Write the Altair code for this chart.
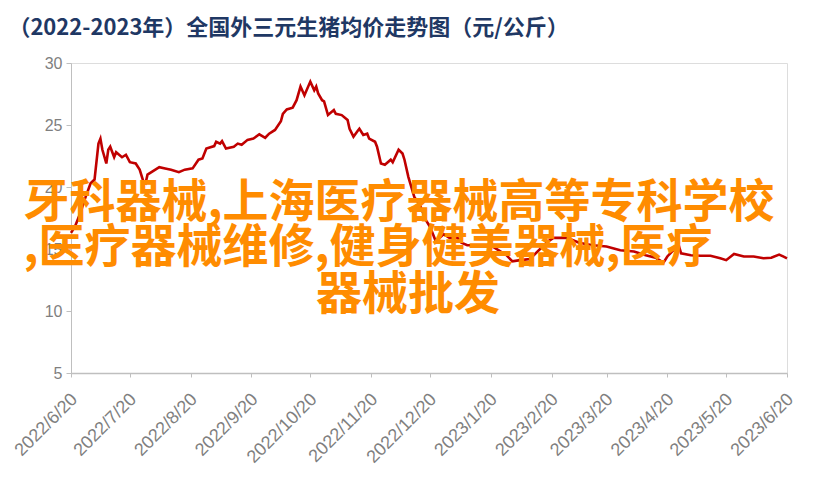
import altair as alt
import pandas as pd

# day offsets from 2022-06-20 and price (元/公斤)
day_offsets = [0, 2, 5, 7, 10, 12, 14, 15, 16, 18, 19, 20, 22, 23, 26, 28, 30, 33, 35, 37, 38, 39, 41, 45, 48, 51, 55, 58, 62,
               65, 67, 69, 73, 74, 76, 77, 79, 83, 85, 87, 90, 93, 96, 99, 101, 104, 107, 108, 110, 113, 115, 117, 119, 122,
               124, 125, 126, 128, 129, 131, 134, 135, 138, 141, 142, 144, 146, 147, 149, 151, 152, 155, 156, 158, 160, 163,
               164, 167, 169, 170, 172, 175, 178, 181, 183, 186, 190, 193, 197, 199, 202, 208, 214, 222, 225, 229, 234, 243,
               246, 253, 259, 266, 273, 280, 287, 293, 298, 302, 304, 307, 310, 311, 316, 321, 326, 331, 334, 338, 343, 348,
               353, 357, 361, 363, 365]
prices = [16.3, 16.8, 18.0, 19.0, 20.3, 20.6, 23.5, 23.9, 23.0, 21.9, 23.0, 23.25, 22.4, 22.8, 22.4, 22.6, 22.0, 21.9, 21.4, 20.4,
          20.3, 21.0, 21.2, 21.6, 21.5, 21.4, 21.2, 21.4, 21.5,
          22.2, 22.3, 23.1, 23.3, 23.65, 23.5, 23.7, 23.1, 23.25, 23.5, 23.4, 23.8, 23.9, 24.25, 23.97, 24.3, 24.6, 25.3, 25.9,
          26.25, 26.4, 27.0, 28.1, 27.4, 28.5,
          27.8, 28.1, 27.55, 27.0, 26.9, 25.8, 26.2, 25.9, 25.8, 25.4, 24.7, 24.06, 24.5, 24.7, 24.2, 24.3, 23.9, 23.65, 23.25,
          21.9, 21.8, 22.2,
          22.0, 23.0, 22.7, 22.2, 20.8, 19.2, 18.5, 17.3, 16.8, 15.6, 16.2, 15.9, 15.9, 15.5, 15.3, 15.3, 15.3, 14.5, 14.0, 14.1,
          14.2, 15.6,
          15.9, 15.9, 15.5, 15.3, 15.2, 14.9, 14.8, 14.5, 14.3, 13.9, 14.4, 14.9, 15.2, 14.65, 14.5, 14.45, 14.45, 14.25, 14.1,
          14.6, 14.4, 14.4,
          14.25, 14.3, 14.55, 14.4, 14.25]

tick_months = [(2022, 6), (2022, 7), (2022, 8), (2022, 9), (2022, 10), (2022, 11), (2022, 12),
               (2023, 1), (2023, 2), (2023, 3), (2023, 4), (2023, 5), (2023, 6)]

title_text = "（2022-2023年）全国外三元生猪均价走势图（元/公斤）"
overlay_lines = ["牙科器械,上海医疗器械高等专科学校", ",医疗器械维修,健身健美器械,医疗", "器械批发"]

start = pd.Timestamp("2022-06-20")
df = pd.DataFrame({
    "date": [(start + pd.Timedelta(days=d)).strftime("%Y-%m-%d") for d in day_offsets],
    "price": prices,
})

tick_vals = [alt.DateTime(year=y, month=m, date=20, utc=True) for y, m in tick_months]

x = alt.X("date:T",
          scale=alt.Scale(type="utc", domain=[alt.DateTime(year=2022, month=6, date=20, utc=True),
                                              alt.DateTime(year=2023, month=6, date=20, utc=True)], nice=False),
          axis=alt.Axis(values=tick_vals, labelExpr="utcFormat(datum.value, '%Y/%-m/%-d')",
                        labelAngle=-45, labelAlign="right", labelBaseline="top", labelPadding=13,
                        labelOffset=-3,
                        labelOverlap=False, labelBound=False, labelFlush=False,
                        labelFont="Liberation Sans", labelFontSize=18, labelColor="#7F7F7F",
                        domainColor="#BFBFBF", domainWidth=1.5, tickColor="#BFBFBF", tickSize=4,
                        grid=False, title=None))
y = alt.Y("price:Q",
          scale=alt.Scale(domain=[5, 30], nice=False, zero=False),
          axis=alt.Axis(values=[5, 10, 15, 20, 25, 30], labelFont="Liberation Sans", labelFontSize=16,
                        labelColor="#7F7F7F", labelPadding=4,
                        domainColor="#BFBFBF", domainWidth=1, tickColor="#BFBFBF", tickSize=5,
                        grid=False, title=None))

line = alt.Chart(df).mark_line(color="#C00000", strokeWidth=2.6).encode(x=x, y=y)

ov = pd.DataFrame({"t": overlay_lines, "px": [328, 297, 337], "py": [140, 185, 232]})
overlay = alt.Chart(ov).mark_text(font="Noto Sans CJK SC", fontWeight="bold", fontSize=46, color="#FF8C00",
                                  align="center", baseline="middle").encode(
    x=alt.X("px:Q", scale=None), y=alt.Y("py:Q", scale=None), text="t:N")

chart = alt.layer(line, overlay).properties(
    width=716, height=310,
    autosize=alt.AutoSizeParams(type="none"),
    padding={"left": 63, "top": 55, "right": 19, "bottom": 100},
    title=alt.TitleParams(title_text, anchor="start", dx=-3, offset=15, font="Noto Sans CJK SC",
                          fontSize=22, fontWeight="bold", color="#1F3864"),
).configure_view(stroke=None).configure(background="white")

chart.save("out.html", embed_options={"renderer": "svg", "actions": False})
